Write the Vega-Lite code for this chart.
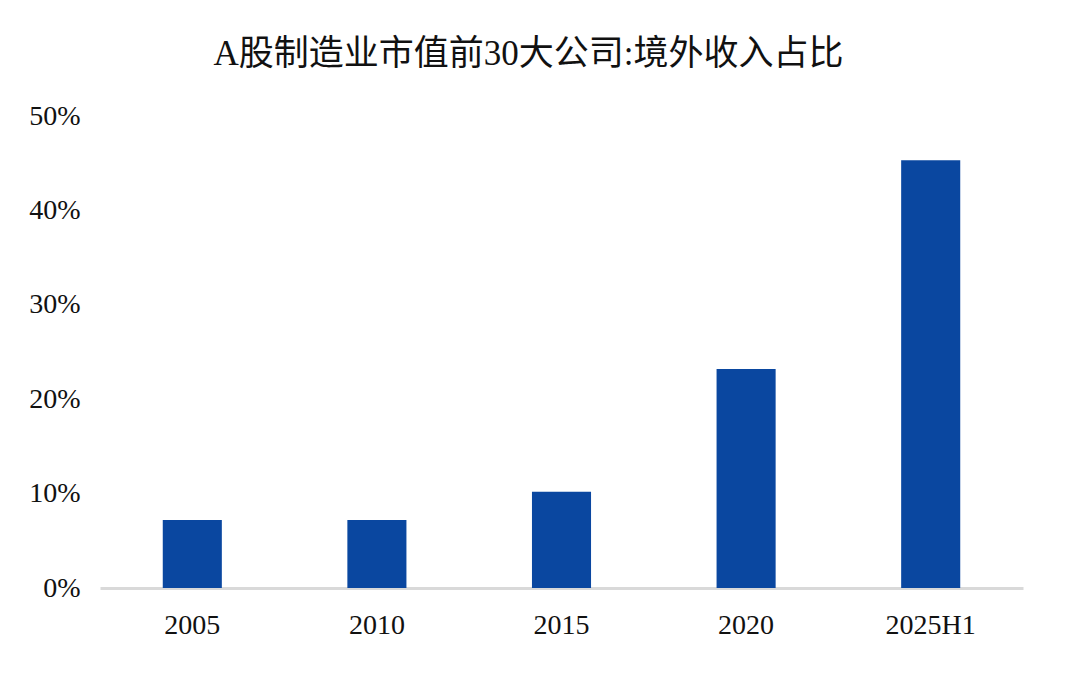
{
  "$schema": "https://vega.github.io/schema/vega-lite/v6.json",
  "width": 923,
  "height": 472,
  "autosize": {"type": "none"},
  "padding": {"left": 100, "top": 116, "right": 45, "bottom": 92},
  "background": "white",
  "title": {
    "text": "A股制造业市值前30大公司:境外收入占比",
    "font": "Liberation Serif, Noto Sans CJK SC",
    "fontSize": 35,
    "fontWeight": "normal",
    "color": "#111111",
    "anchor": "middle",
    "dx": -33,
    "offset": 30
  },
  "data": {
    "values": [
      {"year": "2005", "share": 0.072},
      {"year": "2010", "share": 0.072},
      {"year": "2015", "share": 0.102},
      {"year": "2020", "share": 0.232},
      {"year": "2025H1", "share": 0.453}
    ]
  },
  "mark": {"type": "bar", "color": "#0A47A0"},
  "encoding": {
    "x": {
      "field": "year",
      "type": "nominal",
      "sort": null,
      "scale": {"paddingInner": 0.68, "paddingOuter": 0.34},
      "axis": {
        "title": null,
        "labelAngle": 0,
        "labelFont": "Liberation Serif",
        "labelFontSize": 28,
        "labelColor": "#111111",
        "labelPadding": 23,
        "ticks": false,
        "domainColor": "#d9d9d9",
        "domainWidth": 3,
        "grid": false
      }
    },
    "y": {
      "field": "share",
      "type": "quantitative",
      "scale": {"domain": [0, 0.5], "nice": false},
      "axis": {
        "title": null,
        "format": ".0%",
        "values": [0, 0.1, 0.2, 0.3, 0.4, 0.5],
        "labelFont": "Liberation Serif",
        "labelFontSize": 28,
        "labelColor": "#111111",
        "labelPadding": 20,
        "ticks": false,
        "domain": false,
        "grid": false
      }
    }
  },
  "config": {"view": {"stroke": null}}
}
